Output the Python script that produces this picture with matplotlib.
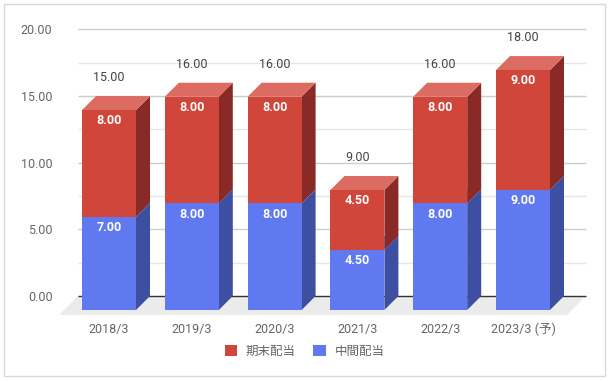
import matplotlib
matplotlib.use("Agg")
from matplotlib import pyplot as plt
from matplotlib.patches import Polygon, Rectangle, Patch

plt.rcParams['font.family'] = ['Roboto', 'Noto Sans CJK JP', 'DejaVu Sans']

categories = ["2018/3", "2019/3", "2020/3", "2021/3", "2022/3", "2023/3 (予)"]
interim = [7.0, 8.0, 8.0, 4.5, 8.0, 9.0]      # 中間配当
year_end = [8.0, 8.0, 8.0, 4.5, 8.0, 9.0]     # 期末配当
totals = [15.0, 16.0, 16.0, 9.0, 16.0, 18.0]
yticks = [0, 5, 10, 15, 20]

W, H = 613, 382
fig = plt.figure(figsize=(W / 100, H / 100), dpi=100)

# axes box in pixels
left_px, right_px, top_px, bot_px = 58, 600, 20, 320
ax = fig.add_axes([left_px / W, 1 - bot_px / H, (right_px - left_px) / W, (bot_px - top_px) / H])
px_x, x0_px = 82.8, 109     # pixels per category, pixel of first front centre
px_y, y0_px = 13.33, 296    # pixels per unit, pixel of zero on back wall
ax.set_xlim((left_px - x0_px) / px_x, (right_px - x0_px) / px_x)
ax.set_ylim((y0_px - bot_px) / px_y, (y0_px - top_px) / px_y)
for s in ax.spines.values():
    s.set_visible(False)

bw = 54 / px_x      # bar width
dx = 14 / px_x      # depth offset
dy = 14 / px_y
wall_l, wall_r = (78 - x0_px) / px_x, (586 - x0_px) / px_x
fdx, fdy = 19 / px_x, 19 / px_y

# back wall grid
for v in [5, 10, 15, 20]:
    ax.hlines(v, wall_l, wall_r, color="#cccccc", lw=1, zorder=1)
for v in [2.5, 7.5, 12.5, 17.5]:
    ax.hlines(v, wall_l, wall_r, color="#e6e6e6", lw=1, zorder=1)

# floor
ax.add_patch(Polygon([(wall_l - fdx, -fdy), (wall_r - fdx, -fdy), (wall_r, 0), (wall_l, 0)],
                     closed=True, facecolor="#ebebeb", edgecolor="none", zorder=1))
ax.hlines(0, wall_l, wall_r, color="#333333", lw=1, zorder=2)


def draw_box(i, b, t, front, side, top):
    l, r = i - bw / 2, i + bw / 2
    ax.add_patch(Polygon([(r, b - dy), (r + dx, b), (r + dx, t), (r, t - dy)],
                         closed=True, facecolor=side, edgecolor="none", zorder=3))
    ax.add_patch(Polygon([(l, t - dy), (r, t - dy), (r + dx, t), (l + dx, t)],
                         closed=True, facecolor=top, edgecolor="none", zorder=3))
    ax.add_patch(Rectangle((l, b - dy), bw, t - b, facecolor=front, edgecolor="none", zorder=4))


for i in range(len(categories)):
    t1 = interim[i]
    t2 = t1 + year_end[i]
    draw_box(i, 0, t1, "#6079f0", "#3d4fa0", "#8a9ef5")
    draw_box(i, t1, t2, "#d0463b", "#8a2a26", "#dc6c62")
    ax.text(i, t1 - dy - 0.8, f"{interim[i]:.2f}", ha="center", va="center",
            color="white", fontsize=9, fontweight="bold", zorder=5)
    ax.text(i, t2 - dy - 0.8, f"{year_end[i]:.2f}", ha="center", va="center",
            color="white", fontsize=9, fontweight="bold", zorder=5)
    ax.text(i, totals[i] + 1.4, f"{totals[i]:.2f}", ha="center", va="center",
            color="#444444", fontsize=9, zorder=5)

ax.set_yticks(yticks)
ax.set_yticklabels([f"{v:.2f}" for v in yticks])
ax.set_xticks(range(len(categories)))
ax.set_xticklabels(categories)
ax.tick_params(axis="y", length=0, pad=4, labelsize=9, labelcolor="#666666")
ax.tick_params(axis="x", length=0, pad=2, labelsize=9, labelcolor="#666666")

handles = [Patch(facecolor="#d0463b", label="期末配当"), Patch(facecolor="#6079f0", label="中間配当")]
fig.legend(handles=handles, loc="center", bbox_to_anchor=(304.5 / W, 1 - 351 / H), ncol=2,
           frameon=False, fontsize=9, handlelength=1, handleheight=1, handletextpad=0.7,
           columnspacing=1.4, labelcolor="#666666")

fig.patches.append(Rectangle((4 / W, 1 - 376 / H), 601 / W, 372 / H, transform=fig.transFigure,
                             facecolor="none", edgecolor="#d9d9d9", lw=1))

fig.savefig("out.png", dpi=100)
